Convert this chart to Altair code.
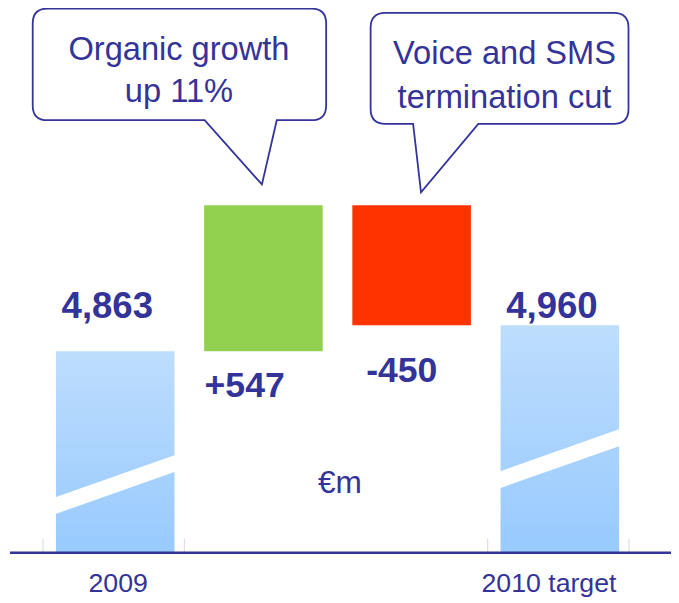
import altair as alt
import pandas as pd

# ---- data ----
categories = ["2009", "Organic growth", "Termination cut", "2010 target"]
amounts = [4863, 547, -450, 4960]
kinds = ["total", "increase", "decrease", "total"]
value_labels = ["4,863", "+547", "-450", "4,960"]
axis_labels = ["2009", "", "", "2010 target"]
callout_line1 = ["Organic growth", "Voice and SMS"]
callout_line2 = ["up 11%", "termination cut"]
unit_label = "€m"

# ---- layout / style ----
W, H = 671, 595
PX_PER_UNIT = 0.27          # broken (non-zero) value axis
TOP_ANCHOR_PX = 196         # pixel row of the highest cumulative value
AXIS_PX = 547.7             # pixel row of the axis break baseline
NAVY = "#333399"
FONT = "Liberation Sans, Arial, sans-serif"

# waterfall cumulative values
starts, ends = [], []
running = 0
for a, k in zip(amounts, kinds):
    if k == "total":
        starts.append(None)
        ends.append(a)
        running = a
    else:
        starts.append(running)
        running = running + a
        ends.append(running)

peak = max(ends)
dom_top = peak + TOP_ANCHOR_PX / PX_PER_UNIT
dom_bot = dom_top - H / PX_PER_UNIT
base_val = dom_top - AXIS_PX / PX_PER_UNIT
starts = [base_val if s is None else float(s) for s in starts]
total_level = float(max(a for a, k in zip(amounts, kinds) if k == "total"))

df = pd.DataFrame({
    "cat": categories,
    "kind": kinds,
    "amount": amounts,
    "start": starts,
    "end": [float(e) for e in ends],
    "top": [float(max(s, e)) for s, e in zip(starts, ends)],
    "bottom": [float(min(s, e)) for s, e in zip(starts, ends)],
    "label": value_labels,
    "axis_label": axis_labels,
    "label_level": [total_level] * len(categories),
})
df_callout = pd.DataFrame({
    "cat": categories[1:3],
    "top": [float(max(s, e)) for s, e in zip(starts[1:3], ends[1:3])],
    "line1": callout_line1,
    "line2": callout_line2,
})

x_scale = alt.Scale(range=[33.5, 633.5], paddingInner=0.2, paddingOuter=0.1)
x_enc = alt.X("cat:N", sort=categories, scale=x_scale, axis=None)
y_scale = alt.Scale(domain=[dom_bot, dom_top], zero=False, nice=False)


def y_enc(field):
    return alt.Y(f"{field}:Q", scale=y_scale, axis=None)


def unit_path(points_px):
    """Shape path: pixel offsets -> unit coords for a symbol of size 40000 (scale 100)."""
    out = []
    for cmd, *coords in points_px:
        vals = " ".join(f"{c / 100:.4f}" for c in coords)
        out.append(f"{cmd} {vals}".strip())
    return " ".join(out)


def bubble(x0, x1, y0, y1, tail_l, tail_r, apex, r=15):
    return unit_path([
        ("M", x0 + r, y0), ("L", x1 - r, y0), ("Q", x1, y0, x1, y0 + r),
        ("L", x1, y1 - r), ("Q", x1, y1, x1 - r, y1),
        ("L", tail_r, y1), ("L", apex[0], apex[1]), ("L", tail_l, y1),
        ("L", x0 + r, y1), ("Q", x0, y1, x0, y1 - r),
        ("L", x0, y0 + r), ("Q", x0, y0, x0 + r, y0), ("Z",),
    ])


bubble1 = bubble(-233.5, 63.5, -199, -86, -59.5, 13.5, (-1.5, -21))
bubble2 = bubble(-41.5, 219.5, -194.7, -82.3, 1.5, 67.5, (9.5, -13))
stripe = unit_path([
    ("M", -62, 148.4), ("L", 62, 104.6), ("L", 62, 121.6), ("L", -62, 165.4), ("Z",)
])

base = alt.Chart(df)
totals = base.transform_filter(alt.datum.kind == "total")

gradient = alt.LinearGradient(
    gradient="linear", x1=0, x2=0, y1=0, y2=1,
    stops=[alt.GradientStop(color="#BDDDFD", offset=0),
           alt.GradientStop(color="#98CAFE", offset=1)],
)

total_bars = totals.mark_bar(color=gradient).encode(x=x_enc, y=y_enc("end"), y2="start:Q")
inc_bars = base.transform_filter(alt.datum.kind == "increase").mark_bar(color="#92D050").encode(
    x=x_enc, y=y_enc("top"), y2="bottom:Q")
dec_bars = base.transform_filter(alt.datum.kind == "decrease").mark_bar(color="#FF3300").encode(
    x=x_enc, y=y_enc("top"), y2="bottom:Q")

stripes = totals.mark_point(shape=stripe, size=40000, filled=True, fill="white",
                            strokeWidth=0, opacity=1).encode(x=x_enc, y=y_enc("end"))

tick_l = totals.mark_rule(color="#D4D4E6", strokeWidth=1, xOffset=-13).encode(
    x=alt.X("cat:N", sort=categories, scale=x_scale, axis=None, bandPosition=0),
    y=y_enc("start"), y2=alt.value(AXIS_PX - 14))
tick_r = totals.mark_rule(color="#D4D4E6", strokeWidth=1, xOffset=10).encode(
    x=alt.X("cat:N", sort=categories, scale=x_scale, axis=None, bandPosition=1),
    y=y_enc("start"), y2=alt.value(AXIS_PX - 14))

axis_line = alt.Chart(pd.DataFrame({"v": [base_val]})).mark_rule(
    color=NAVY, strokeWidth=2.7).encode(
    y=alt.Y("v:Q", scale=y_scale, axis=None), x=alt.value(2), x2=alt.value(W))

bold = dict(font=FONT, fontWeight="bold", color=NAVY, baseline="alphabetic")
total_labels = totals.mark_text(fontSize=37, dx=-8, dy=-7, **bold).encode(
    x=x_enc, y=y_enc("label_level"), text="label:N")
inc_labels = base.transform_filter(alt.datum.kind == "increase").mark_text(
    fontSize=36, dx=-19, dy=46, **bold).encode(x=x_enc, y=y_enc("bottom"), text="label:N")
dec_labels = base.transform_filter(alt.datum.kind == "decrease").mark_text(
    fontSize=36, dx=-10, dy=57, **bold).encode(x=x_enc, y=y_enc("bottom"), text="label:N")

reg = dict(font=FONT, color=NAVY, baseline="alphabetic")
cat_2009 = base.transform_filter(alt.datum.cat == "2009").mark_text(
    fontSize=27, dx=3, dy=40, **reg).encode(x=x_enc, y=y_enc("start"), text="axis_label:N")
cat_2010 = base.transform_filter(alt.datum.cat == "2010 target").mark_text(
    fontSize=27, dx=-11, dy=40, **reg).encode(x=x_enc, y=y_enc("start"), text="axis_label:N")

cb = alt.Chart(df_callout)
c1 = cb.transform_filter(alt.datum.cat == categories[1])
c2 = cb.transform_filter(alt.datum.cat == categories[2])
bubble_1 = c1.mark_point(
    shape=bubble1, size=40000, filled=True, fill="white", stroke=NAVY, strokeWidth=1.8,
    opacity=1).encode(x=x_enc, y=y_enc("top"))
bubble_2 = c2.mark_point(
    shape=bubble2, size=40000, filled=True, fill="white", stroke=NAVY, strokeWidth=1.8,
    opacity=1).encode(x=x_enc, y=y_enc("top"))
txt = dict(fontSize=33, **reg)
b1_l1 = c1.mark_text(dx=-85.5, dy=-147, **txt).encode(x=x_enc, y=y_enc("top"), text="line1:N")
b1_l2 = c1.mark_text(dx=-85.5, dy=-104, **txt).encode(x=x_enc, y=y_enc("top"), text="line2:N")
b2_l1 = c2.mark_text(dx=94, dy=-143, **txt).encode(x=x_enc, y=y_enc("top"), text="line1:N")
b2_l2 = c2.mark_text(dx=94, dy=-98, **txt).encode(x=x_enc, y=y_enc("top"), text="line2:N")

unit_text = alt.Chart(pd.DataFrame({"t": [unit_label]})).mark_text(
    fontSize=32, **reg).encode(x=alt.value(336), y=alt.value(487), text="t:N")

chart = alt.layer(
    total_bars, inc_bars, dec_bars, stripes, tick_l, tick_r, axis_line,
    total_labels, inc_labels, dec_labels, cat_2009, cat_2010,
    bubble_1, bubble_2, b1_l1, b1_l2, b2_l1, b2_l2, unit_text,
).properties(
    width=W, height=H, padding=0, autosize=alt.AutoSizeParams(type="none"),
).configure_view(stroke=None)

chart.save("out.html", embed_options={"renderer": "svg", "actions": False})
